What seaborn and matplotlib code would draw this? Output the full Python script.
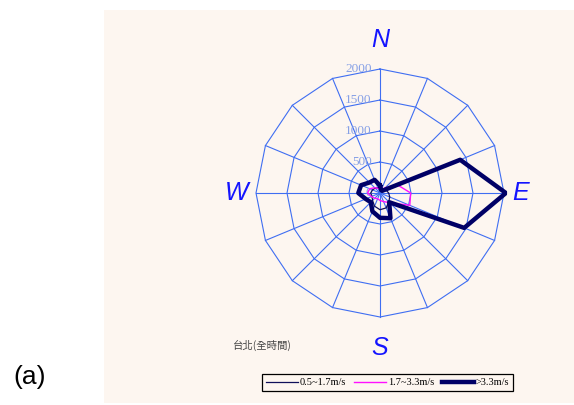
import numpy as np
import pandas as pd
import matplotlib
matplotlib.use("Agg")
import matplotlib.pyplot as plt
from matplotlib.lines import Line2D
from matplotlib.patches import Rectangle
import seaborn as sns

# ---------------- data ----------------
directions = ["N", "NNE", "NE", "ENE", "E", "ESE", "SE", "SSE",
              "S", "SSW", "SW", "WSW", "W", "WNW", "NW", "NNW"]
low_speed = [90, 70, 80, 110, 140, 170, 200, 260, 270, 230, 170, 140, 150, 130, 110, 90]      # 0.5~1.7 m/s
mid_speed = [70, 60, 120, 320, 495, 520, 220, 150, 120, 100, 120, 150, 200, 180, 120, 80]     # 1.7~3.3 m/s
high_speed = [120, 50, 50, 1400, 2030, 1470, 210, 440, 400, 320, 210, 250, 350, 330, 240, 230]  # >3.3 m/s
series_labels = ["0.5~1.7m/s", "1.7~3.3m/s", ">3.3m/s"]
ring_values = [500, 1000, 1500, 2000]
cardinals = ["N", "E", "S", "W"]
title_text = "台北(全時間)"
panel_label = "(a)"

# ---------------- figure ----------------
W, H = 574, 405
fig = plt.figure(figsize=(W / 100, H / 100), dpi=100)
fig.patch.set_facecolor("white")
fig.patches.append(Rectangle((104 / W, 2 / H), (574 - 104) / W, (403 - 10) / H,
                             transform=fig.transFigure, facecolor="#fdf6f0",
                             edgecolor="none", zorder=-10))

rmax = 2050
rad_px = 124 * rmax / 2000
cx, cy = 380, 193
ax = fig.add_axes([(cx - rad_px) / W, (H - cy - rad_px) / H, 2 * rad_px / W, 2 * rad_px / H],
                  projection="polar")
ax.set_zorder(5)
ax.set_theta_zero_location("N")
ax.set_theta_direction(-1)
ax.set_ylim(0, rmax)
ax.patch.set_alpha(0)
ax.spines["polar"].set_visible(False)
ax.grid(False)
ax.set_xticks([])
ax.set_yticks([])

theta = np.deg2rad(np.arange(16) * 22.5)
theta_closed = np.append(theta, 2 * np.pi)

grid_col = "#3f6ef2"
for r in ring_values:
    ax.plot(theta_closed, [r] * 17, color=grid_col, lw=0.8, zorder=1)
for t in theta:
    ax.plot([t, t], [0, 2000], color=grid_col, lw=0.8, zorder=1)

# radial labels
for r in [0] + ring_values:
    ax.annotate(str(r), xy=(0, r), xytext=(-6, 0), textcoords="offset points",
                ha="right", va="center", fontsize=9.5, family="Liberation Serif",
                color="#86a0e6", zorder=2)

# data series
def closed(vals):
    return list(vals) + [vals[0]]

styles = [
    (low_speed, "#10105a", 0.9),
    (mid_speed, "#ff10ff", 1.0),
    (high_speed, "#000066", 3.2),
]
for vals, col, lw in styles:
    df = pd.DataFrame({"theta": theta_closed, "r": closed(vals)})
    sns.lineplot(data=df, x="theta", y="r", sort=False, estimator=None,
                 color=col, lw=lw, ax=ax, legend=False, zorder=3)
ax.set_xlabel("")
ax.set_ylabel("")
ax.set_ylim(0, rmax)

# cardinal labels (positions in data units)
card_pos = {"N": (0, 2470), "E": (np.pi / 2, 2260), "S": (np.pi, 2500), "W": (1.5 * np.pi, 2320)}
for c in cardinals:
    t, r = card_pos[c]
    ax.text(t, r, c, ha="center", va="center", fontsize=18, style="italic",
            family="Liberation Sans", color="#1414ff", clip_on=False)

fig.text(233 / W, (H - 345) / H, title_text, ha="left", va="center", fontsize=7.5,
         family=["Noto Sans CJK TC", "DejaVu Sans"], color="#444444")
fig.text(30 / W, (H - 377) / H, panel_label, ha="center", va="center", fontsize=19,
         family="Liberation Sans", color="black")

handles = [Line2D([], [], color="#10105a", lw=0.9),
           Line2D([], [], color="#ff10ff", lw=1.0),
           Line2D([], [], color="#000066", lw=3.2)]
leg = fig.legend(handles, series_labels, loc="center", bbox_to_anchor=((260 + 515) / 2 / W, (H - 382.5) / H),
                 ncol=3, frameon=True, fancybox=False, edgecolor="black", facecolor="#fdf6f0",
                 framealpha=1, prop={"family": "Liberation Serif", "size": 7.5},
                 handlelength=3.1, handletextpad=0.2, columnspacing=0.7, borderpad=0.35)
leg.get_frame().set_linewidth(0.9)

fig.savefig("out.png", dpi=100)
